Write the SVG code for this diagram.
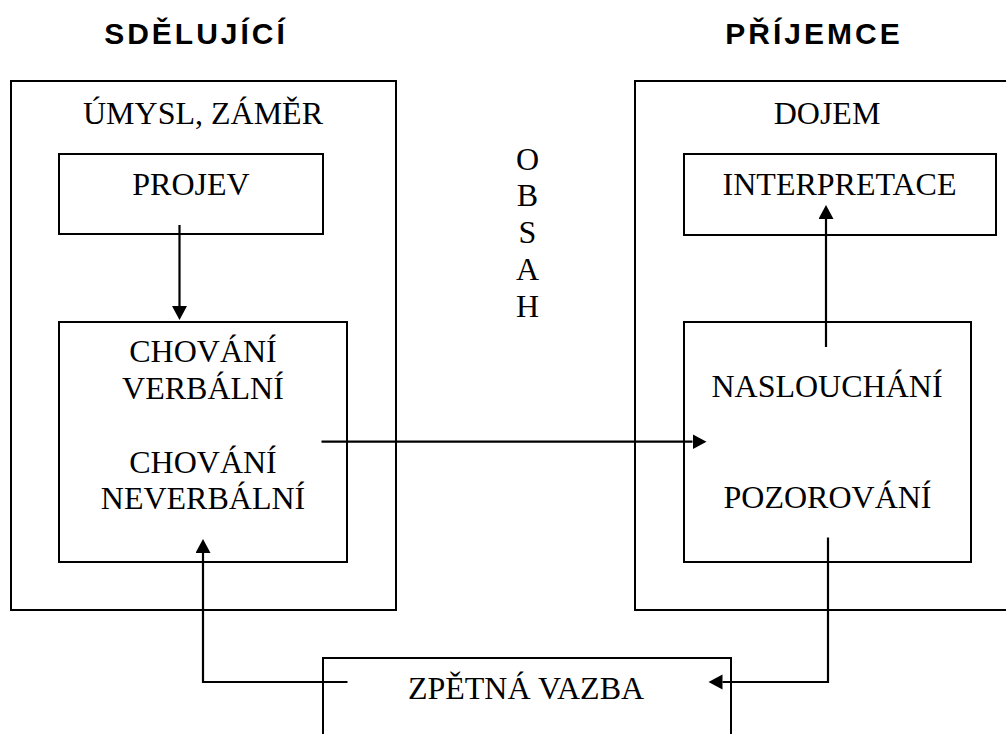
<svg xmlns="http://www.w3.org/2000/svg" width="1006" height="734" viewBox="0 0 1006 734">
<style>
.box{fill:none;stroke:#000;stroke-width:2}
.t{font-family:"Liberation Serif","Times New Roman",serif;font-size:32px;fill:#000;text-anchor:middle}
.h{font-family:"Liberation Sans",Arial,sans-serif;font-size:30px;font-weight:bold;letter-spacing:3px;fill:#000;text-anchor:middle}
.c{fill:none;stroke:#000;stroke-width:2.2}
</style>
<defs>
<marker id="ah" markerUnits="userSpaceOnUse" markerWidth="15" markerHeight="16" refX="0" refY="7.5" orient="auto">
<path d="M0,0 L14,7.5 L0,15 z" fill="#000"/>
</marker>
</defs>
<rect width="1006" height="734" fill="#fff"/>
<text class="h" x="196" y="44">SDĚLUJÍCÍ</text>
<text class="h" x="814" y="44">PŘÍJEMCE</text>
<g id="sdelujici">
<rect class="box" x="11" y="81" width="385" height="529"/>
<text class="t" x="203" y="124">ÚMYSL, ZÁMĚR</text>
</g>
<g id="projev">
<rect class="box" x="59" y="154" width="264" height="80"/>
<text class="t" x="191" y="195">PROJEV</text>
</g>
<g id="chovani">
<rect class="box" x="59" y="322" width="288" height="240"/>
<text class="t" x="203" y="362">CHOVÁNÍ</text>
<text class="t" x="203" y="399">VERBÁLNÍ</text>
<text class="t" x="203" y="473">CHOVÁNÍ</text>
<text class="t" x="203" y="509">NEVERBÁLNÍ</text>
</g>
<g id="obsah">
<text class="t" x="527.5" y="169.5">O</text>
<text class="t" x="527.5" y="206">B</text>
<text class="t" x="527.5" y="243">S</text>
<text class="t" x="527.5" y="279.5">A</text>
<text class="t" x="527.5" y="316.5">H</text>
</g>
<g id="prijemce">
<rect class="box" x="635" y="81" width="380" height="529"/>
<text class="t" x="827" y="124">DOJEM</text>
</g>
<g id="interpretace">
<rect class="box" x="684" y="154" width="312" height="81"/>
<text class="t" x="839.5" y="195">INTERPRETACE</text>
</g>
<g id="naslouchani">
<rect class="box" x="684" y="322" width="287" height="240"/>
<text class="t" x="827" y="397">NASLOUCHÁNÍ</text>
<text class="t" x="827.5" y="508">POZOROVÁNÍ</text>
</g>
<g id="zpetna">
<rect class="box" x="323" y="658" width="408" height="100"/>
<text class="t" x="526" y="699">ZPĚTNÁ VAZBA</text>
</g>
<g id="connectors">
<path class="c" d="M179.5,225 V306" marker-end="url(#ah)"/>
<path class="c" d="M321.5,441.7 H692.5" marker-end="url(#ah)"/>
<path class="c" d="M826,347 V219" marker-end="url(#ah)"/>
<path class="c" d="M828,537.5 V682 H722.5" marker-end="url(#ah)"/>
<path class="c" d="M347.5,682 H203 V553" marker-end="url(#ah)"/>
</g>
</svg>
